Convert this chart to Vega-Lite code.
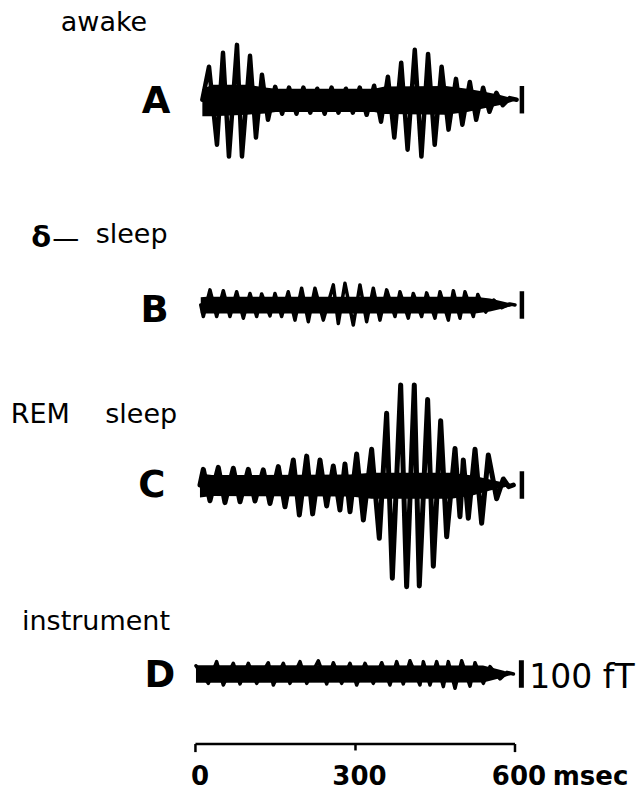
{
  "$schema": "https://vega.github.io/schema/vega-lite/v6.json",
  "width": 641,
  "height": 794,
  "padding": 0,
  "autosize": {"type": "fit", "contains": "padding"},
  "background": "white",
  "config": {"view": {"stroke": null}, "text": {"font": "DejaVu Sans", "color": "black"}},
  "datasets": {
    "wave": [
      {"trace":"A","t":12,"v":0},{"trace":"A","t":24.5,"v":120},{"trace":"A","t":39.5,"v":-164},{"trace":"A","t":50.8,"v":171},{"trace":"A","t":62,"v":-207},{"trace":"A","t":77.1,"v":200},{"trace":"A","t":86.5,"v":-207},{"trace":"A","t":101.6,"v":160},{"trace":"A","t":112.8,"v":-138},{"trace":"A","t":124.1,"v":91},{"trace":"A","t":135.4,"v":-73},{"trace":"A","t":149,"v":47},{"trace":"A","t":162,"v":-51},{"trace":"A","t":175,"v":44},{"trace":"A","t":189,"v":-51},{"trace":"A","t":202,"v":44},{"trace":"A","t":215,"v":-47},{"trace":"A","t":228,"v":40},{"trace":"A","t":242,"v":-51},{"trace":"A","t":255,"v":44},{"trace":"A","t":268,"v":-47},{"trace":"A","t":282,"v":40},{"trace":"A","t":295,"v":-47},{"trace":"A","t":308,"v":44},{"trace":"A","t":321,"v":-55},{"trace":"A","t":335,"v":51},{"trace":"A","t":348,"v":-80},{"trace":"A","t":361,"v":84},{"trace":"A","t":373,"v":-138},{"trace":"A","t":386,"v":135},{"trace":"A","t":398,"v":-182},{"trace":"A","t":411.5,"v":182},{"trace":"A","t":424,"v":-207},{"trace":"A","t":436.5,"v":167},{"trace":"A","t":449,"v":-164},{"trace":"A","t":462,"v":120},{"trace":"A","t":475,"v":-109},{"trace":"A","t":489,"v":76},{"trace":"A","t":501,"v":-91},{"trace":"A","t":515,"v":65},{"trace":"A","t":527,"v":-73},{"trace":"A","t":540,"v":44},{"trace":"A","t":552,"v":-44},{"trace":"A","t":565,"v":25},{"trace":"A","t":577,"v":-20},{"trace":"A","t":590,"v":6},{"trace":"A","t":603,"v":0},
      {"trace":"B","t":9,"v":0},{"trace":"B","t":13.8,"v":-42},{"trace":"B","t":26.3,"v":55},{"trace":"B","t":38.9,"v":-42},{"trace":"B","t":51.4,"v":52},{"trace":"B","t":63.9,"v":-42},{"trace":"B","t":76.5,"v":48},{"trace":"B","t":89,"v":-48},{"trace":"B","t":101.6,"v":42},{"trace":"B","t":114.1,"v":-42},{"trace":"B","t":123.5,"v":40},{"trace":"B","t":139.2,"v":-40},{"trace":"B","t":148.6,"v":42},{"trace":"B","t":161.1,"v":-42},{"trace":"B","t":173.6,"v":48},{"trace":"B","t":186.2,"v":-55},{"trace":"B","t":198.7,"v":61},{"trace":"B","t":211.3,"v":-61},{"trace":"B","t":223.8,"v":61},{"trace":"B","t":239.5,"v":-55},{"trace":"B","t":258.3,"v":73},{"trace":"B","t":267.7,"v":-67},{"trace":"B","t":280.2,"v":79},{"trace":"B","t":295.9,"v":-73},{"trace":"B","t":308.4,"v":73},{"trace":"B","t":321,"v":-61},{"trace":"B","t":333.5,"v":61},{"trace":"B","t":346,"v":-55},{"trace":"B","t":358.6,"v":55},{"trace":"B","t":374.3,"v":-42},{"trace":"B","t":383.6,"v":48},{"trace":"B","t":399.3,"v":-48},{"trace":"B","t":408.7,"v":42},{"trace":"B","t":424.4,"v":-42},{"trace":"B","t":433.8,"v":44},{"trace":"B","t":449.5,"v":-48},{"trace":"B","t":458.9,"v":48},{"trace":"B","t":474.6,"v":-55},{"trace":"B","t":484,"v":52},{"trace":"B","t":496.5,"v":-48},{"trace":"B","t":505.9,"v":48},{"trace":"B","t":521.6,"v":-42},{"trace":"B","t":530,"v":38},{"trace":"B","t":545,"v":-26},{"trace":"B","t":560,"v":18},{"trace":"B","t":575,"v":-10},{"trace":"B","t":590,"v":4},{"trace":"B","t":600,"v":0},
      {"trace":"C","t":7.5,"v":0},{"trace":"C","t":13.8,"v":57},{"trace":"C","t":26.3,"v":-57},{"trace":"C","t":42,"v":64},{"trace":"C","t":54.5,"v":-64},{"trace":"C","t":70.2,"v":61},{"trace":"C","t":82.8,"v":-61},{"trace":"C","t":98.4,"v":57},{"trace":"C","t":111,"v":-58},{"trace":"C","t":126.6,"v":55},{"trace":"C","t":139.2,"v":-67},{"trace":"C","t":154.9,"v":67},{"trace":"C","t":167.4,"v":-79},{"trace":"C","t":183.1,"v":91},{"trace":"C","t":194.4,"v":-109},{"trace":"C","t":208.2,"v":105},{"trace":"C","t":219.4,"v":-105},{"trace":"C","t":233.2,"v":91},{"trace":"C","t":245.8,"v":-76},{"trace":"C","t":258.3,"v":69},{"trace":"C","t":270.8,"v":-91},{"trace":"C","t":280.2,"v":76},{"trace":"C","t":289.7,"v":-97},{"trace":"C","t":302.2,"v":113},{"trace":"C","t":314.8,"v":-127},{"trace":"C","t":330.4,"v":130},{"trace":"C","t":344.8,"v":-194},{"trace":"C","t":358.6,"v":261},{"trace":"C","t":369.3,"v":-339},{"trace":"C","t":385,"v":364},{"trace":"C","t":396.2,"v":-370},{"trace":"C","t":410.6,"v":364},{"trace":"C","t":420,"v":-367},{"trace":"C","t":435.7,"v":311},{"trace":"C","t":446.4,"v":-295},{"trace":"C","t":460.2,"v":234},{"trace":"C","t":471.5,"v":-188},{"trace":"C","t":487.2,"v":133},{"trace":"C","t":496.5,"v":-115},{"trace":"C","t":502.8,"v":91},{"trace":"C","t":512.2,"v":-121},{"trace":"C","t":524.8,"v":130},{"trace":"C","t":537.3,"v":-139},{"trace":"C","t":549.8,"v":109},{"trace":"C","t":565.5,"v":-50},{"trace":"C","t":578,"v":22},{"trace":"C","t":588,"v":-6},{"trace":"C","t":597,"v":0},
      {"trace":"D","t":0,"v":30},{"trace":"D","t":23.2,"v":-34},{"trace":"D","t":38.9,"v":45},{"trace":"D","t":51.4,"v":-40},{"trace":"D","t":70.2,"v":39},{"trace":"D","t":82.8,"v":-36},{"trace":"D","t":98.4,"v":39},{"trace":"D","t":114.1,"v":-34},{"trace":"D","t":136,"v":41},{"trace":"D","t":145.5,"v":-40},{"trace":"D","t":164.3,"v":39},{"trace":"D","t":176.8,"v":-34},{"trace":"D","t":195.6,"v":45},{"trace":"D","t":208.2,"v":-34},{"trace":"D","t":230.1,"v":48},{"trace":"D","t":245.8,"v":-36},{"trace":"D","t":258.3,"v":41},{"trace":"D","t":274,"v":-34},{"trace":"D","t":289.7,"v":39},{"trace":"D","t":302.2,"v":-40},{"trace":"D","t":317.9,"v":39},{"trace":"D","t":333.5,"v":-34},{"trace":"D","t":349.3,"v":41},{"trace":"D","t":364.8,"v":-40},{"trace":"D","t":377.5,"v":45},{"trace":"D","t":389.9,"v":-36},{"trace":"D","t":402.5,"v":48},{"trace":"D","t":421.3,"v":-40},{"trace":"D","t":427.6,"v":45},{"trace":"D","t":440.1,"v":-40},{"trace":"D","t":452.7,"v":45},{"trace":"D","t":465.2,"v":-46},{"trace":"D","t":474.6,"v":45},{"trace":"D","t":487.2,"v":-52},{"trace":"D","t":499.7,"v":48},{"trace":"D","t":515.4,"v":-44},{"trace":"D","t":524.8,"v":41},{"trace":"D","t":540.5,"v":-34},{"trace":"D","t":553,"v":27},{"trace":"D","t":571.8,"v":-18},{"trace":"D","t":585,"v":6},{"trace":"D","t":597,"v":0}
    ],
    "band": [
      {"trace":"A","t":12,"hi":38,"lo":-60},{"trace":"A","t":30,"hi":55,"lo":-60},{"trace":"A","t":95,"hi":55,"lo":-55},{"trace":"A","t":130,"hi":45,"lo":-50},{"trace":"A","t":150,"hi":40,"lo":-45},{"trace":"A","t":335,"hi":40,"lo":-45},{"trace":"A","t":355,"hi":48,"lo":-52},{"trace":"A","t":470,"hi":50,"lo":-55},{"trace":"A","t":510,"hi":40,"lo":-45},{"trace":"A","t":540,"hi":30,"lo":-32},{"trace":"A","t":570,"hi":18,"lo":-20},{"trace":"A","t":590,"hi":8,"lo":-10},{"trace":"A","t":603,"hi":2,"lo":-2},
      {"trace":"B","t":9,"hi":28,"lo":-30},{"trace":"B","t":20,"hi":30,"lo":-31},{"trace":"B","t":525,"hi":30,"lo":-31},{"trace":"B","t":553,"hi":24,"lo":-24},{"trace":"B","t":575,"hi":14,"lo":-14},{"trace":"B","t":600,"hi":1,"lo":-1},
      {"trace":"C","t":7.5,"hi":42,"lo":-45},{"trace":"C","t":30,"hi":36,"lo":-40},{"trace":"C","t":290,"hi":38,"lo":-42},{"trace":"C","t":330,"hi":45,"lo":-50},{"trace":"C","t":480,"hi":45,"lo":-50},{"trace":"C","t":520,"hi":35,"lo":-38},{"trace":"C","t":553,"hi":20,"lo":-20},{"trace":"C","t":597,"hi":1,"lo":-1},
      {"trace":"D","t":0,"hi":32,"lo":-32},{"trace":"D","t":540,"hi":31,"lo":-31},{"trace":"D","t":555,"hi":24,"lo":-24},{"trace":"D","t":575,"hi":14,"lo":-14},{"trace":"D","t":597,"hi":1,"lo":-1}
    ]
  },
  "layer": [
    {
      "layer": [
        {"data": {"name": "band"}, "transform": [{"filter": "datum.trace === 'A'"}], "mark": {"type": "area", "color": "black"},
         "encoding": {"x": {"field": "t", "type": "quantitative", "scale": {"domain": [-368.6, 837], "nice": false, "zero": false}, "axis": null},
                      "y": {"field": "hi", "type": "quantitative", "scale": {"domain": [-2531, 363.6], "nice": false, "zero": false}, "axis": null}, "y2": {"field": "lo"}}},
        {"data": {"name": "wave"}, "transform": [{"filter": "datum.trace === 'A'"}], "mark": {"type": "line", "color": "black", "strokeWidth": 4.5, "strokeJoin": "round", "strokeCap": "round"},
         "encoding": {"x": {"field": "t", "type": "quantitative", "scale": {"domain": [-368.6, 837], "nice": false, "zero": false}, "axis": null},
                      "y": {"field": "v", "type": "quantitative", "scale": {"domain": [-2531, 363.6], "nice": false, "zero": false}, "axis": null}}},
        {"data": {"values": [{"t": 613, "lo": -50, "hi": 50}]}, "mark": {"type": "rule", "color": "black", "strokeWidth": 4.5},
         "encoding": {"x": {"field": "t", "type": "quantitative", "scale": {"domain": [-368.6, 837], "nice": false, "zero": false}, "axis": null},
                      "y": {"field": "lo", "type": "quantitative", "scale": {"domain": [-2531, 363.6], "nice": false, "zero": false}, "axis": null}, "y2": {"field": "hi"}}},
        {"data": {"values": [{"label": "awake", "t": -173, "v": 251}]}, "mark": {"type": "text", "fontSize": 27, "align": "center", "baseline": "alphabetic"},
         "encoding": {"x": {"field": "t", "type": "quantitative", "scale": {"domain": [-368.6, 837], "nice": false, "zero": false}, "axis": null},
                      "y": {"field": "v", "type": "quantitative", "scale": {"domain": [-2531, 363.6], "nice": false, "zero": false}, "axis": null},
                      "text": {"field": "label"}}},
        {"data": {"values": [{"label": "A", "t": -75, "v": -47}]}, "mark": {"type": "text", "fontSize": 37, "fontWeight": "bold", "align": "center", "baseline": "alphabetic"},
         "encoding": {"x": {"field": "t", "type": "quantitative", "scale": {"domain": [-368.6, 837], "nice": false, "zero": false}, "axis": null},
                      "y": {"field": "v", "type": "quantitative", "scale": {"domain": [-2531, 363.6], "nice": false, "zero": false}, "axis": null},
                      "text": {"field": "label"}}}
      ]
    },
    {
      "layer": [
        {"data": {"name": "band"}, "transform": [{"filter": "datum.trace === 'B'"}], "mark": {"type": "area", "color": "black"},
         "encoding": {"x": {"field": "t", "type": "quantitative", "scale": {"domain": [-368.6, 837], "nice": false, "zero": false}, "axis": null},
                      "y": {"field": "hi", "type": "quantitative", "scale": {"domain": [-1778.2, 1109], "nice": false, "zero": false}, "axis": null}, "y2": {"field": "lo"}}},
        {"data": {"name": "wave"}, "transform": [{"filter": "datum.trace === 'B'"}], "mark": {"type": "line", "color": "black", "strokeWidth": 3.5, "strokeJoin": "round", "strokeCap": "round"},
         "encoding": {"x": {"field": "t", "type": "quantitative", "scale": {"domain": [-368.6, 837], "nice": false, "zero": false}, "axis": null},
                      "y": {"field": "v", "type": "quantitative", "scale": {"domain": [-1778.2, 1109], "nice": false, "zero": false}, "axis": null}}},
        {"data": {"values": [{"t": 613, "lo": -50, "hi": 50}]}, "mark": {"type": "rule", "color": "black", "strokeWidth": 4.5},
         "encoding": {"x": {"field": "t", "type": "quantitative", "scale": {"domain": [-368.6, 837], "nice": false, "zero": false}, "axis": null},
                      "y": {"field": "lo", "type": "quantitative", "scale": {"domain": [-1778.2, 1109], "nice": false, "zero": false}, "axis": null}, "y2": {"field": "hi"}}},
        {"data": {"values": [{"label": "δ", "t": -291, "v": 211}]}, "mark": {"type": "text", "fontSize": 29, "fontWeight": "bold", "align": "center", "baseline": "alphabetic"},
         "encoding": {"x": {"field": "t", "type": "quantitative", "scale": {"domain": [-368.6, 837], "nice": false, "zero": false}, "axis": null},
                      "y": {"field": "v", "type": "quantitative", "scale": {"domain": [-1778.2, 1109], "nice": false, "zero": false}, "axis": null},
                      "text": {"field": "label"}}},
        {"data": {"values": [{"label": "—", "t": -245, "v": 211}, {"label": "sleep", "t": -121, "v": 225}]}, "mark": {"type": "text", "fontSize": 27, "align": "center", "baseline": "alphabetic"},
         "encoding": {"x": {"field": "t", "type": "quantitative", "scale": {"domain": [-368.6, 837], "nice": false, "zero": false}, "axis": null},
                      "y": {"field": "v", "type": "quantitative", "scale": {"domain": [-1778.2, 1109], "nice": false, "zero": false}, "axis": null},
                      "text": {"field": "label"}}},
        {"data": {"values": [{"label": "B", "t": -78, "v": -62}]}, "mark": {"type": "text", "fontSize": 37, "fontWeight": "bold", "align": "center", "baseline": "alphabetic"},
         "encoding": {"x": {"field": "t", "type": "quantitative", "scale": {"domain": [-368.6, 837], "nice": false, "zero": false}, "axis": null},
                      "y": {"field": "v", "type": "quantitative", "scale": {"domain": [-1778.2, 1109], "nice": false, "zero": false}, "axis": null},
                      "text": {"field": "label"}}}
      ]
    },
    {
      "layer": [
        {"data": {"name": "band"}, "transform": [{"filter": "datum.trace === 'C'"}], "mark": {"type": "area", "color": "black"},
         "encoding": {"x": {"field": "t", "type": "quantitative", "scale": {"domain": [-368.6, 837], "nice": false, "zero": false}, "axis": null},
                      "y": {"field": "hi", "type": "quantitative", "scale": {"domain": [-1123.5, 1763.5], "nice": false, "zero": false}, "axis": null}, "y2": {"field": "lo"}}},
        {"data": {"name": "wave"}, "transform": [{"filter": "datum.trace === 'C'"}], "mark": {"type": "line", "color": "black", "strokeWidth": 5, "strokeJoin": "round", "strokeCap": "round"},
         "encoding": {"x": {"field": "t", "type": "quantitative", "scale": {"domain": [-368.6, 837], "nice": false, "zero": false}, "axis": null},
                      "y": {"field": "v", "type": "quantitative", "scale": {"domain": [-1123.5, 1763.5], "nice": false, "zero": false}, "axis": null}}},
        {"data": {"values": [{"t": 613, "lo": -50, "hi": 50}]}, "mark": {"type": "rule", "color": "black", "strokeWidth": 4.5},
         "encoding": {"x": {"field": "t", "type": "quantitative", "scale": {"domain": [-368.6, 837], "nice": false, "zero": false}, "axis": null},
                      "y": {"field": "lo", "type": "quantitative", "scale": {"domain": [-1123.5, 1763.5], "nice": false, "zero": false}, "axis": null}, "y2": {"field": "hi"}}},
        {"data": {"values": [{"label": "REM", "t": -293, "v": 225}, {"label": "sleep", "t": -103, "v": 225}]},
         "mark": {"type": "text", "fontSize": 27, "align": "center", "baseline": "alphabetic"},
         "encoding": {"x": {"field": "t", "type": "quantitative", "scale": {"domain": [-368.6, 837], "nice": false, "zero": false}, "axis": null},
                      "y": {"field": "v", "type": "quantitative", "scale": {"domain": [-1123.5, 1763.5], "nice": false, "zero": false}, "axis": null},
                      "text": {"field": "label"}}},
        {"data": {"values": [{"label": "C", "t": -83, "v": -44}]},
         "mark": {"type": "text", "fontSize": 37, "fontWeight": "bold", "align": "center", "baseline": "alphabetic"},
         "encoding": {"x": {"field": "t", "type": "quantitative", "scale": {"domain": [-368.6, 837], "nice": false, "zero": false}, "axis": null},
                      "y": {"field": "v", "type": "quantitative", "scale": {"domain": [-1123.5, 1763.5], "nice": false, "zero": false}, "axis": null},
                      "text": {"field": "label"}}}
      ]
    },
    {
      "layer": [
        {"data": {"name": "band"}, "transform": [{"filter": "datum.trace === 'D'"}], "mark": {"type": "area", "color": "black"},
         "encoding": {"x": {"field": "t", "type": "quantitative", "scale": {"domain": [-368.6, 837], "nice": false, "zero": false}, "axis": null},
                      "y": {"field": "hi", "type": "quantitative", "scale": {"domain": [-436.3, 2450.7], "nice": false, "zero": false}, "axis": null}, "y2": {"field": "lo"}}},
        {"data": {"name": "wave"}, "transform": [{"filter": "datum.trace === 'D'"}], "mark": {"type": "line", "color": "black", "strokeWidth": 3.5, "strokeJoin": "round", "strokeCap": "round"},
         "encoding": {"x": {"field": "t", "type": "quantitative", "scale": {"domain": [-368.6, 837], "nice": false, "zero": false}, "axis": null},
                      "y": {"field": "v", "type": "quantitative", "scale": {"domain": [-436.3, 2450.7], "nice": false, "zero": false}, "axis": null}}},
        {"data": {"values": [{"t": 612, "lo": -50, "hi": 50}]}, "mark": {"type": "rule", "color": "black", "strokeWidth": 5},
         "encoding": {"x": {"field": "t", "type": "quantitative", "scale": {"domain": [-368.6, 837], "nice": false, "zero": false}, "axis": null},
                      "y": {"field": "lo", "type": "quantitative", "scale": {"domain": [-436.3, 2450.7], "nice": false, "zero": false}, "axis": null}, "y2": {"field": "hi"}}},
        {"data": {"values": [{"label": "instrument", "t": -188, "v": 160}]},
         "mark": {"type": "text", "fontSize": 27, "align": "center", "baseline": "alphabetic"},
         "encoding": {"x": {"field": "t", "type": "quantitative", "scale": {"domain": [-368.6, 837], "nice": false, "zero": false}, "axis": null},
                      "y": {"field": "v", "type": "quantitative", "scale": {"domain": [-436.3, 2450.7], "nice": false, "zero": false}, "axis": null},
                      "text": {"field": "label"}}},
        {"data": {"values": [{"label": "D", "t": -68, "v": -47}]},
         "mark": {"type": "text", "fontSize": 37, "fontWeight": "bold", "align": "center", "baseline": "alphabetic"},
         "encoding": {"x": {"field": "t", "type": "quantitative", "scale": {"domain": [-368.6, 837], "nice": false, "zero": false}, "axis": null},
                      "y": {"field": "v", "type": "quantitative", "scale": {"domain": [-436.3, 2450.7], "nice": false, "zero": false}, "axis": null},
                      "text": {"field": "label"}}},
        {"data": {"values": [{"label": "100 fT", "t": 627, "v": -51}]},
         "mark": {"type": "text", "align": "left", "baseline": "alphabetic", "fontSize": 33},
         "encoding": {"x": {"field": "t", "type": "quantitative", "scale": {"domain": [-368.6, 837], "nice": false, "zero": false}, "axis": null},
                      "y": {"field": "v", "type": "quantitative", "scale": {"domain": [-436.3, 2450.7], "nice": false, "zero": false}, "axis": null},
                      "text": {"field": "label"}}},
        {"data": {"values": [{"a": -1, "b": 600, "v": -254.5}]}, "mark": {"type": "rule", "color": "black", "strokeWidth": 2.5},
         "encoding": {"x": {"field": "a", "type": "quantitative", "scale": {"domain": [-368.6, 837], "nice": false, "zero": false}, "axis": null}, "x2": {"field": "b"},
                      "y": {"field": "v", "type": "quantitative", "scale": {"domain": [-436.3, 2450.7], "nice": false, "zero": false}, "axis": null}}},
        {"data": {"values": [{"t": -1, "v": -254.5, "v2": -284}, {"t": 300, "v": -254.5, "v2": -278}, {"t": 600, "v": -254.5, "v2": -284}]}, "mark": {"type": "rule", "color": "black", "strokeWidth": 2.5},
         "encoding": {"x": {"field": "t", "type": "quantitative", "scale": {"domain": [-368.6, 837], "nice": false, "zero": false}, "axis": null},
                      "y": {"field": "v", "type": "quantitative", "scale": {"domain": [-436.3, 2450.7], "nice": false, "zero": false}, "axis": null}, "y2": {"field": "v2"}}},
        {"data": {"values": [{"t": 0, "v": -403.6, "label": "0"}, {"t": 300, "v": -403.6, "label": "300"}, {"t": 600, "v": -403.6, "label": "600"}]},
         "mark": {"type": "text", "fontSize": 26, "fontWeight": "bold", "align": "center", "baseline": "alphabetic", "dx": 4},
         "encoding": {"x": {"field": "t", "type": "quantitative", "scale": {"domain": [-368.6, 837], "nice": false, "zero": false}, "axis": null},
                      "y": {"field": "v", "type": "quantitative", "scale": {"domain": [-436.3, 2450.7], "nice": false, "zero": false}, "axis": null},
                      "text": {"field": "label"}}},
        {"data": {"values": [{"t": 671, "v": -403.6, "label": "msec"}]},
         "mark": {"type": "text", "fontSize": 26, "fontWeight": "bold", "align": "left", "baseline": "alphabetic"},
         "encoding": {"x": {"field": "t", "type": "quantitative", "scale": {"domain": [-368.6, 837], "nice": false, "zero": false}, "axis": null},
                      "y": {"field": "v", "type": "quantitative", "scale": {"domain": [-436.3, 2450.7], "nice": false, "zero": false}, "axis": null},
                      "text": {"field": "label"}}}
      ]
    }
  ],
  "resolve": {"scale": {"y": "independent"}}
}
